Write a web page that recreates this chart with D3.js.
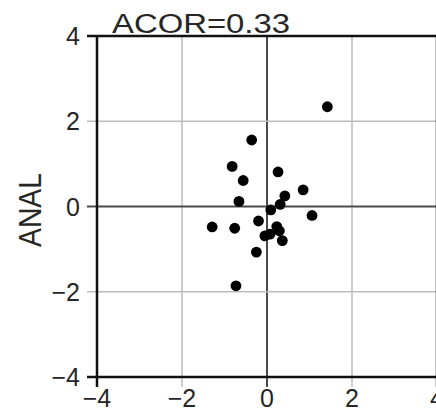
<!DOCTYPE html>
<html>
<head>
<meta charset="utf-8">
<script src="https://cdn.jsdelivr.net/npm/d3@7"></script>
<style>
  html, body { margin: 0; padding: 0; background: #fff; }
  svg { display: block; }
  text { font-family: "Liberation Sans", Arial, sans-serif; fill: #262626; }
</style>
</head>
<body>
<script>
// Scatter of the analysis anomaly against the forecast anomaly
const xVals = [1.42, -0.36, -0.82, -0.56, 0.26, 0.85, 0.42, -0.66, 0.31, 0.09, 1.06,
               -0.20, -1.29, -0.76, 0.23, 0.29, -0.05, 0.07, 0.36, -0.25, -0.73];
const yVals = [2.34, 1.56, 0.94, 0.61, 0.81, 0.39, 0.25, 0.12, 0.05, -0.08, -0.21,
               -0.34, -0.48, -0.51, -0.47, -0.57, -0.69, -0.65, -0.80, -1.07, -1.86];
const tickValues = [-4, -2, 0, 2, 4];
const titleText = "ACOR=0.33";
const yLabel = "ANAL";

const W = 436, H = 414;
const svg = d3.select("body").append("svg").attr("width", W).attr("height", H);

const x = d3.scaleLinear().domain([-4, 4]).range([97, 437]);
const y = d3.scaleLinear().domain([-4, 4]).range([377, 36]);
const fmt = d3.format("d");

// inner grid lines, extended outward as tick marks
const inner = tickValues.filter(v => v !== -4 && v !== 4);
const gridColor = v => v === 0 ? "#4a4a4a" : "#bdbdbd";
const gridWidth = v => v === 0 ? 2 : 1.5;

svg.append("g").selectAll("line").data(inner).join("line")
  .attr("x1", d => x(d)).attr("x2", d => x(d))
  .attr("y1", y(4)).attr("y2", y(-4) + 10)
  .attr("stroke", gridColor).attr("stroke-width", gridWidth);

svg.append("g").selectAll("line").data(inner).join("line")
  .attr("y1", d => y(d)).attr("y2", d => y(d))
  .attr("x1", x(-4) - 10).attr("x2", x(4))
  .attr("stroke", gridColor).attr("stroke-width", gridWidth);

// frame
const frame = svg.append("g").attr("stroke", "#111").attr("stroke-width", 2.5);
frame.append("line").attr("x1", x(-4) - 10).attr("x2", x(4) + 2).attr("y1", y(4)).attr("y2", y(4));
frame.append("line").attr("x1", x(-4) - 10).attr("x2", x(4) + 2).attr("y1", y(-4)).attr("y2", y(-4));
frame.append("line").attr("x1", x(-4)).attr("x2", x(-4)).attr("y1", y(4) - 1).attr("y2", y(-4) + 10);
frame.append("line").attr("x1", x(4)).attr("x2", x(4)).attr("y1", y(4) - 1).attr("y2", y(-4) + 10);

// tick labels
svg.append("g").selectAll("text").data(tickValues).join("text")
  .attr("x", d => x(d)).attr("y", y(-4) + 30)
  .attr("text-anchor", "middle").attr("font-size", 25)
  .text(d => fmt(d));

svg.append("g").selectAll("text").data(tickValues).join("text")
  .attr("x", 80).attr("y", d => y(d) + 9)
  .attr("text-anchor", "end").attr("font-size", 25)
  .text(d => fmt(d));

// points
svg.append("g").selectAll("circle").data(xVals).join("circle")
  .attr("cx", (d, i) => x(d)).attr("cy", (d, i) => y(yVals[i]))
  .attr("r", 5.4).attr("fill", "#000");

// title
svg.append("text").attr("x", 112).attr("y", 33)
  .attr("font-size", 27).attr("textLength", 178).attr("lengthAdjust", "spacingAndGlyphs")
  .text(titleText);

// y axis label
svg.append("text")
  .attr("transform", "translate(41,210) rotate(-90)")
  .attr("text-anchor", "middle").attr("font-size", 32)
  .attr("textLength", 74).attr("lengthAdjust", "spacingAndGlyphs")
  .text(yLabel);
</script>
</body>
</html>
